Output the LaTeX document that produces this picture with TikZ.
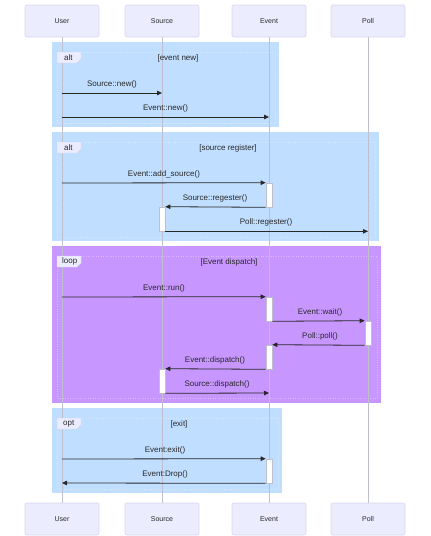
\documentclass[tikz,border=0pt]{standalone}
\usepackage{fontspec}
\setmainfont{Liberation Sans}
\usetikzlibrary{arrows.meta}
\definecolor{actfill}{RGB}{236,236,255}
\definecolor{actline}{RGB}{214,214,240}
\definecolor{boxblue}{RGB}{192,222,255}
\definecolor{boxpurple}{RGB}{200,150,255}
\definecolor{txt}{RGB}{40,40,40}
\definecolor{life}{RGB}{190,190,205}
\tikzset{
  actor/.style={draw=actline, line width=0.6pt, fill=actfill, rounded corners=2pt,
    minimum width=74pt, minimum height=32pt, inner sep=0pt, font=\fontsize{7}{8}\selectfont, text=txt},
  lifeline/.style={draw=life, line width=0.6pt},
  innerframe/.style={draw=white, draw opacity=0.35, line width=0.5pt, dotted},
  tab/.style={fill=actfill, draw=actline, line width=0.4pt},
  tabtext/.style={font=\fontsize{8}{9}\selectfont, text=txt, anchor=west, inner sep=0pt},
  cond/.style={font=\fontsize{8}{9}\selectfont, text=txt, inner sep=0pt},
  msg/.style={draw=txt, line width=0.8pt, -{Triangle[length=5pt,width=4.5pt]}},
  msgtext/.style={font=\fontsize{8}{9}\selectfont, text=txt, inner sep=0pt},
  activ/.style={draw=life, fill=white, line width=0.6pt, minimum width=6pt, inner sep=0pt},
}
\begin{document}
\begin{tikzpicture}[x=1pt,y=-1pt]
\useasboundingbox (0,0) rectangle (431,536);
% frames
\fill[boxblue] (52,42) rectangle (279,127);
\fill[boxblue] (52,132) rectangle (379,241);
\fill[boxpurple] (52,246) rectangle (381,403);
\fill[boxblue] (52,408) rectangle (282,493);
\draw[innerframe] (57,52) rectangle (275,123);
\draw[innerframe] (57,142) rectangle (375,237);
\draw[innerframe] (57,256) rectangle (377,398);
\draw[innerframe] (57,418) rectangle (278,489);
% lifelines
\coordinate (uTop) at (62,37); \coordinate (uBot) at (62,503);
\coordinate (sTop) at (162,37); \coordinate (sBot) at (162,503);
\coordinate (eTop) at (269,37); \coordinate (eBot) at (269,503);
\coordinate (pTop) at (368,37); \coordinate (pBot) at (368,503);
\draw[lifeline] (uTop) -- (uBot);
\draw[lifeline] (sTop) -- (sBot);
\draw[lifeline] (eTop) -- (eBot);
\draw[lifeline] (pTop) -- (pBot);
% actors
\node[actor] (userT) at (62,21) {User};
\node[actor] (sourceT) at (162,21) {Source};
\node[actor] (eventT) at (269,21) {Event};
\node[actor] (pollT) at (368,21) {Poll};
\node[actor] (userB) at (62,519) {User};
\node[actor] (sourceB) at (162,519) {Source};
\node[actor] (eventB) at (269,519) {Event};
\node[actor] (pollB) at (368,519) {Poll};
% tabs and conditions
\draw[tab] (57,52) -- (81,52) -- (81,59) -- (77,63) -- (57,63) -- cycle;
\node[tabtext] (t1) at (64,57.5) {alt};
\node[cond] (c1) at (178,58) {[event new]};
\draw[tab] (57,142) -- (81,142) -- (81,149) -- (77,153) -- (57,153) -- cycle;
\node[tabtext] (t2) at (64,147.5) {alt};
\node[cond] (c2) at (228,148) {[source register]};
\draw[tab] (57,256) -- (81,256) -- (81,263) -- (77,267) -- (57,267) -- cycle;
\node[tabtext] (t3) at (62,261.5) {loop};
\node[cond] (c3) at (229,262) {[Event dispatch]};
\draw[tab] (57,418) -- (81,418) -- (81,425) -- (77,429) -- (57,429) -- cycle;
\node[tabtext] (t4) at (63,423.5) {opt};
\node[cond] (c4) at (179,424) {[exit]};
% activations
\node[activ, minimum height=24pt] (a1) at (269,195) {};
\node[activ, minimum height=24pt] (a2) at (162,219) {};
\node[activ, minimum height=24pt] (a3) at (269,309) {};
\node[activ, minimum height=24pt] (a4) at (368,333) {};
\node[activ, minimum height=24pt] (a5) at (269,357) {};
\node[activ, minimum height=24pt] (a6) at (162,381) {};
\node[activ, minimum height=24pt] (a7) at (269,471) {};
% message endpoints
\coordinate (m1a) at (62,93);  \coordinate (m1b) at (162,93);
\coordinate (m2a) at (62,117); \coordinate (m2b) at (269,117);
\coordinate (m3a) at (62,183);
\coordinate (m6a) at (62,297);
\coordinate (m10b) at (269,393);
\coordinate (m11a) at (62,459);
\coordinate (m12b) at (62,483);
% messages
\draw[msg] (m1a) -- (m1b);
\node[msgtext] (l1) at (112,84) {Source::new()};
\draw[msg] (m2a) -- (m2b);
\node[msgtext] (l2) at (165.5,108) {Event::new()};
\draw[msg] (m3a) -- (a1.north west);
\node[msgtext] (l3) at (164,174) {Event::add\_source()};
\draw[msg] (a1.south west) -- (a2.north east);
\node[msgtext] (l4) at (215,198) {Source::regester()};
\draw[msg] (a2.south east) -- (pTop |- a2.south east);
\node[msgtext] (l5) at (266,222) {Poll::regester()};
\draw[msg] (m6a) -- (a3.north west);
\node[msgtext] (l6) at (164,288) {Event::run()};
\draw[msg] (a3.south east) -- (a4.north west);
\node[msgtext] (l7) at (320,312) {Event::wait()};
\draw[msg] (a4.south west) -- (a5.north east);
\node[msgtext] (l8) at (320,336) {Poll::poll()};
\draw[msg] (a5.south west) -- (a6.north east);
\node[msgtext] (l9) at (215,360) {Event::dispatch()};
\draw[msg] (a6.south east) -- (m10b);
\node[msgtext] (l10) at (217,384) {Source::dispatch()};
\draw[msg] (m11a) -- (a7.north west);
\node[msgtext] (l11) at (165,450) {Event:exit()};
\draw[msg] (a7.south west) -- (m12b);
\node[msgtext] (l12) at (165,474) {Event:Drop()};
\end{tikzpicture}
\end{document}
